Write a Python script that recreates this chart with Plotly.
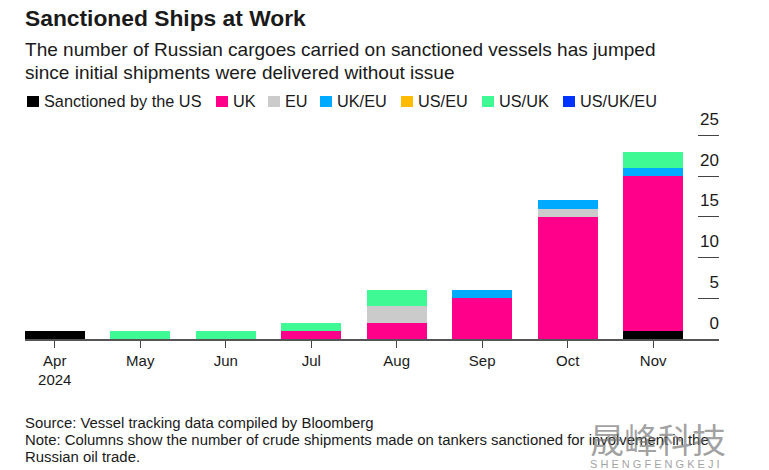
import plotly.graph_objects as go

months = ["Apr<br>2024", "May", "Jun", "Jul", "Aug", "Sep", "Oct", "Nov"]
us = [1, 0, 0, 0, 0, 0, 0, 1]
uk = [0, 0, 0, 1, 2, 5, 15, 19]
eu = [0, 0, 0, 0, 2, 0, 1, 0]
uk_eu = [0, 0, 0, 0, 0, 1, 1, 1]
us_eu = [0, 0, 0, 0, 0, 0, 0, 0]
us_uk = [0, 1, 1, 1, 2, 0, 0, 2]
us_uk_eu = [0, 0, 0, 0, 0, 0, 0, 0]

y_ticks = [0, 5, 10, 15, 20, 25]

series = [
    ("Sanctioned by the US", us, "#000000"),
    ("UK", uk, "#ff008a"),
    ("EU", eu, "#cbcbcb"),
    ("UK/EU", uk_eu, "#00aaff"),
    ("US/EU", us_eu, "#ffbb00"),
    ("US/UK", us_uk, "#3ffa94"),
    ("US/UK/EU", us_uk_eu, "#0033ff"),
]

# left edge of each legend swatch, in page px
legend_px = [27, 216, 268, 320, 401, 482, 563]

# the page has an 8px body margin, so the figure starts at (8, 8)
OFF = 8
W, H = 761, 462
ML, MR, MT, MB = 17, 50, 40, 131
plot_w = W - ML - MR
plot_h = H - MT - MB
PX_PER_UNIT = 8.15

FONT = "Liberation Sans"
INK = "#1a1a1a"
WATERMARK = "rgba(120,120,120,0.7)"

fig = go.Figure()
for name, vals, color in series:
    fig.add_trace(go.Bar(x=list(range(8)), y=vals, name=name, marker_color=color,
                         marker_line_width=0, showlegend=False))

fig.update_layout(
    width=W, height=H,
    barmode="stack", bargap=0.3,
    plot_bgcolor="white", paper_bgcolor="white",
    margin=dict(l=ML, r=MR, t=MT, b=MB, autoexpand=False),
    font=dict(family=FONT, color=INK, size=15),
    xaxis=dict(
        tickmode="array", tickvals=list(range(8)), ticktext=months,
        range=[-0.348, 7.77], showgrid=False, zeroline=False,
        ticks="outside", ticklen=7, tickwidth=1, tickcolor="#444444",
        showline=True, linecolor="#555555", linewidth=1.5,
        tickfont=dict(size=15, color=INK),
    ),
    yaxis=dict(
        # extra headroom above 25 so its label, drawn above the tick, is kept
        side="right", range=[0, plot_h / PX_PER_UNIT], tickvals=y_ticks,
        showgrid=False, zeroline=False, showline=False,
        ticks="inside", ticklen=21, tickwidth=1, tickcolor="#444444",
        ticklabelposition="inside top", ticklabelshift=-4, ticklabelstandoff=-3,
        tickfont=dict(size=17, color=INK),
    ),
)


def page_x(px):
    return (px - OFF - ML) / plot_w


def page_y(py):
    return (H - MB - (py - OFF)) / plot_h


def add_text(text, px, py, size, color=INK, family=FONT):
    fig.add_annotation(text=text, xref="paper", yref="paper",
                       x=page_x(px), y=page_y(py),
                       xanchor="left", yanchor="middle", showarrow=False, align="left",
                       font=dict(size=size, color=color, family=family))


add_text("<b>Sanctioned Ships at Work</b>", 23, 18, 22.8)
add_text("The number of Russian cargoes carried on sanctioned vessels has jumped", 23, 49, 19.05)
add_text("since initial shipments were delivered without issue", 23, 72, 19.05)

for (name, vals, color), lx in zip(series, legend_px):
    fig.add_shape(type="rect", xref="paper", yref="paper",
                  x0=page_x(lx), x1=page_x(lx + 12),
                  y0=page_y(107), y1=page_y(96),
                  fillcolor=color, line_width=0)
    add_text(name, lx + 15, 101, 16.3)

add_text("Source: Vessel tracking data compiled by Bloomberg", 23, 423, 14.9)
add_text("Note: Columns show the number of crude shipments made on tankers sanctioned for involvement in the", 23, 440, 14.9)
add_text("Russian oil trade.", 23, 457, 14.9)

add_text("晟峰科技", 588, 438, 34, color=WATERMARK, family="Noto Sans CJK SC")
add_text("S H E N G F E N G K E J I", 588, 464, 11, color=WATERMARK)

fig.write_html("out.html")
